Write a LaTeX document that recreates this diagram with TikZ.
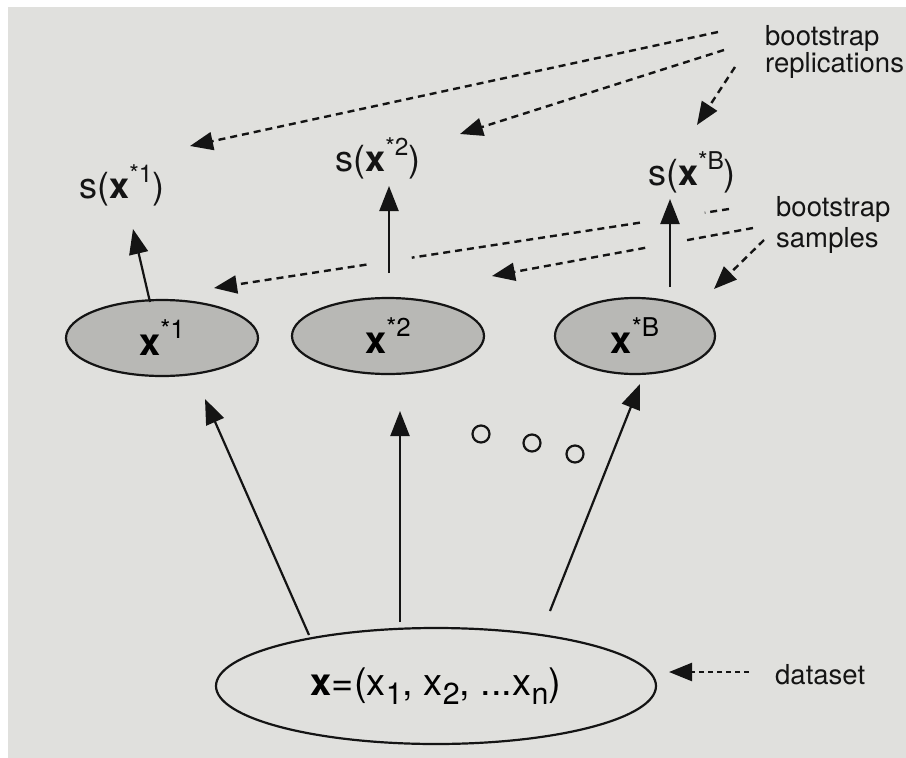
\documentclass[tikz,border=0pt]{standalone}
\usepackage{fontspec}
\setmainfont{TeX Gyre Heros}
\usetikzlibrary{shapes.geometric,arrows.meta,calc}
\definecolor{paper}{RGB}{224,224,221}
\definecolor{blobfill}{RGB}{184,184,181}
\definecolor{ink}{RGB}{20,20,20}
\newcommand\supr[2][0.68]{\raisebox{0.45em}{\scalebox{#1}{#2}}}
\newcommand\subr[2][0.8]{\raisebox{-0.22em}{\scalebox{#1}{#2}}}
\tikzset{
  samp/.style={ellipse,draw=ink,line width=2.2pt,fill=blobfill,inner sep=0pt,
    minimum width=192pt,minimum height=76pt,font=\fontsize{38}{40}\selectfont},
  dataset/.style={ellipse,draw=ink,line width=2.2pt,fill=paper,inner sep=0pt,
    minimum width=440pt,minimum height=116pt,font=\fontsize{38}{40}\selectfont},
  stat/.style={inner sep=0pt,font=\fontsize{36}{38}\selectfont,text=ink},
  lab/.style={inner sep=0pt,align=left,text=ink},
  arr/.style={draw=ink,line width=2.2pt,-{Triangle[length=25pt,width=19pt]}},
  darr/.style={draw=ink,line width=2.4pt,dash pattern=on 7pt off 5pt,
    -{Triangle[length=23pt,width=18pt]}},
  dseg/.style={draw=ink,line width=2.4pt,dash pattern=on 7pt off 5pt},
  dot/.style={circle,draw=ink,line width=2.2pt,minimum size=17pt,inner sep=0pt}
}
\begin{document}
\begin{tikzpicture}[x=1pt,y=-1pt]
\useasboundingbox (0,0) rectangle (906,758);
\fill[white] (0,0) rectangle (906,758);
\fill[paper] (8,7) rectangle (906,758);

% ellipses
\node[samp] (e1) at (162,338) {\textbf{x}\supr{*1}};
\node[samp] (e2) at (388,336) {\textbf{x}\supr{*2}};
\node[samp,minimum width=160pt] (eB) at (635,336) {\textbf{x}\supr{*B}};
\node[dataset] (d) at (436,686) {\textbf{x}=(x\subr{1}, x\subr{2}, ...x\subr{n})};

% statistics
\node[stat] (s1) at (122,185) {s(\textbf{x}\supr{*1})};
\node[stat] (s2) at (378,158) {s(\textbf{x}\supr{*2})};
\node[stat] (sB) at (692,172) {s(\textbf{x}\supr{*B})};

% side labels
\node[lab,anchor=north west,font=\fontsize{27.5}{27}\selectfont] (rep) at (765,25) {bootstrap\\replications};
\node[lab,anchor=north west,font=\fontsize{27.5}{31}\selectfont] (smp) at (776,196) {bootstrap\\samples};
\node[lab,anchor=west,font=\fontsize{27.5}{29}\selectfont] (dl) at (775,675) {dataset};

% dots
\node[dot] (o1) at (481,434) {};
\node[dot] (o2) at (532,443) {};
\node[dot] (o3) at (575,454) {};

% solid arrows: samples -> statistics
\coordinate (e1t) at (150,302);
\coordinate (s1b) at (133,229);
\coordinate (e2t) at (389,273);
\coordinate (s2b) at (389,186);
\coordinate (eBt) at (670,287);
\coordinate (sBb) at (670,199);
\draw[arr] (e1t) -- (s1b);
\draw[arr] (e2t) -- (s2b);
\draw[arr] (eBt) -- (sBb);

% solid arrows: dataset -> samples
\coordinate (d1) at (309,635);
\coordinate (e1b) at (205,399);
\coordinate (d2) at (400,622);
\coordinate (e2b) at (400,411);
\coordinate (d3) at (550,611);
\coordinate (eBb) at (640,384);
\draw[arr] (d1) -- (e1b);
\draw[arr] (d2) -- (e2b);
\draw[arr] (d3) -- (eBb);

% dashed: replications
\coordinate (r1) at (718,32);
\coordinate (r1t) at (190,146);
\coordinate (r2) at (724,50);
\coordinate (r2t) at (460,134);
\coordinate (r3) at (735,67);
\coordinate (r3t) at (697,125);
\draw[darr] (r1) -- (r1t);
\draw[darr] (r2) -- (r2t);
\draw[darr] (r3) -- (r3t);

% dashed: samples
\coordinate (a1) at (729,209);
\coordinate (a1t) at (214,288);
\draw[dseg] (a1) -- ($(a1)!0.047!(a1t)$);
\draw[dseg] ($(a1)!0.173!(a1t)$) -- ($(a1)!0.616!(a1t)$);
\draw[darr] ($(a1)!0.704!(a1t)$) -- (a1t);
\coordinate (a2) at (753,228);
\coordinate (a2t) at (492,276);
\draw[dseg] (a2) -- ($(a2)!0.259!(a2t)$);
\draw[darr] ($(a2)!0.413!(a2t)$) -- (a2t);
\coordinate (a3) at (764,240);
\coordinate (a3t) at (714,289);
\draw[darr] (a3) -- (a3t);

% dashed: dataset
\coordinate (ds) at (749,672);
\coordinate (dt) at (669,672);
\draw[darr,dash pattern=on 5pt off 4pt] (ds) -- (dt);
\end{tikzpicture}
\end{document}
